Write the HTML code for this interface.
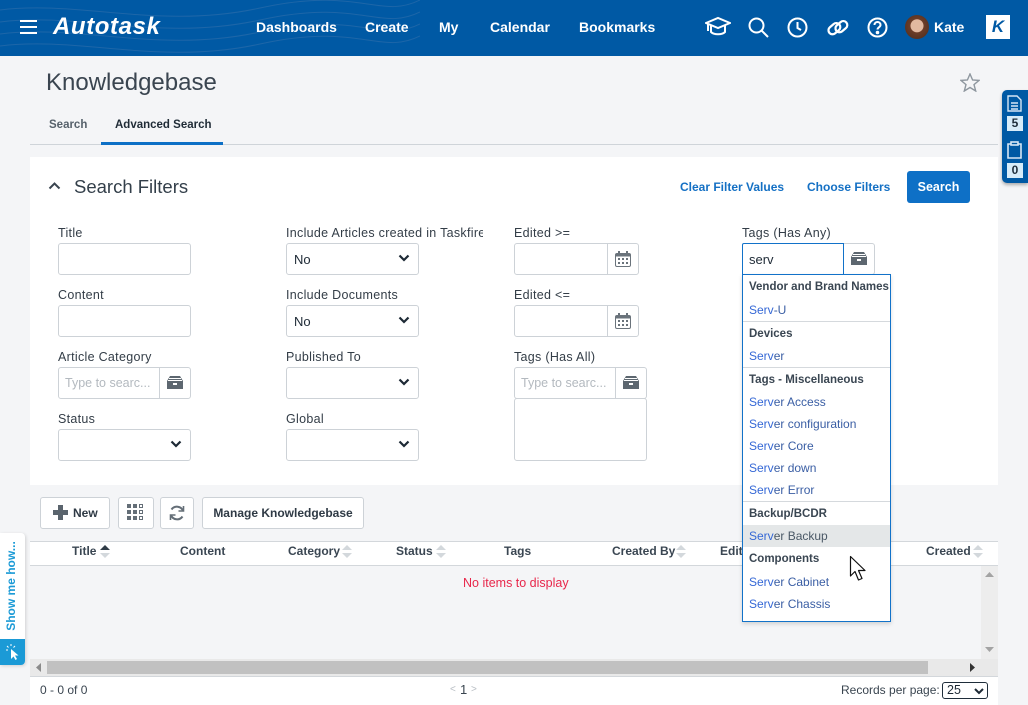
<!DOCTYPE html>
<html>
<head>
<meta charset="utf-8">
<style>
*{box-sizing:border-box;margin:0;padding:0}
html,body{width:1028px;height:705px;overflow:hidden}
body{background:#f4f5f7;font-family:"Liberation Sans",Arial,sans-serif;position:relative;color:#333d47}
.a{position:absolute}
.hdr{left:0;top:0;width:1028px;height:56px;background:#0059a4;overflow:hidden}
.nav{top:19px;color:#fff;font-weight:bold;font-size:14px;white-space:nowrap}
.lbl{font-size:12.5px;letter-spacing:0.3px;color:#333d47;white-space:nowrap;overflow:hidden}
.inp{background:#fff;border:1px solid #cdd2d7;border-radius:3px}
.sel{background:#fff;border:1px solid #cdd2d7;border-radius:3px;font-size:13px;color:#1d2935;padding:8px 0 0 7px}
.chev{position:absolute;right:8px;top:10px;width:12px;height:8px}
.btn{background:#fff;border:1px solid #cdd2d7;border-radius:3px;font-weight:bold;font-size:12px;color:#2f3a45}
.gh{top:544px;font-weight:bold;font-size:12px;color:#3a4652;white-space:nowrap}
.dd{left:742px;top:274px;width:149px;height:348px;background:#fff;border:1px solid #1272c9;box-shadow:0 2px 4px rgba(0,0,0,.15)}
.dh{font-weight:bold;font-size:11.5px;color:#3a4652;height:24px;line-height:24px;padding-left:6px;white-space:nowrap}
.di{font-size:12px;color:#3a5ea4;height:22px;line-height:22px;padding-left:6px;white-space:nowrap}
.di b{font-weight:normal;color:#3568d6}
.sep{border-top:1px solid #d5d9dd}
</style>
</head>
<body>
<!-- header -->
<div class="a hdr">
  <svg class="a" style="left:0;top:0" width="420" height="56">
    <g fill="none" stroke="#2a6cab" stroke-width="1" opacity=".7">
      <path d="M0 10 C80 0 160 30 260 8 S380 20 420 0"/>
      <path d="M0 22 C80 12 160 42 260 20 S380 32 420 12"/>
      <path d="M0 34 C80 24 160 54 260 32 S380 44 420 24"/>
      <path d="M0 46 C80 36 160 66 260 44 S380 56 420 36"/>
    </g>
  </svg>
  <div class="a" style="left:20px;top:20px;width:17px;height:2px;background:#fff"></div>
  <div class="a" style="left:20px;top:26px;width:17px;height:2px;background:#fff"></div>
  <div class="a" style="left:20px;top:32px;width:17px;height:2px;background:#fff"></div>
  <div class="a" style="left:53px;top:13px;color:#fff;font-weight:bold;font-style:italic;font-size:24px;letter-spacing:0.6px">Autotask</div>
  <div class="a nav" style="left:256px">Dashboards</div>
  <div class="a nav" style="left:365px">Create</div>
  <div class="a nav" style="left:439px">My</div>
  <div class="a nav" style="left:490px">Calendar</div>
  <div class="a nav" style="left:579px">Bookmarks</div>
  <svg class="a" style="left:705px;top:16px" width="26" height="22" viewBox="0 0 26 22" fill="none" stroke="#fff" stroke-width="2"><path d="M1 7 L13 2 L25 7 L13 12 Z"/><path d="M6 9 V16 C9 19 17 19 20 16 V9"/><path d="M3 8 V15"/></svg>
  <svg class="a" style="left:748px;top:17px" width="21" height="21" fill="none" stroke="#fff" stroke-width="2"><circle cx="8.5" cy="8.5" r="7"/><path d="M13.5 13.5 L20 20"/></svg>
  <svg class="a" style="left:787px;top:17px" width="21" height="21" fill="none" stroke="#fff" stroke-width="2"><circle cx="10.5" cy="10.5" r="9"/><path d="M10.5 5 V11 L14 13"/></svg>
  <svg class="a" style="left:826px;top:17px" width="24" height="22" fill="none" stroke="#fff" stroke-width="2.2"><rect x="2" y="8" width="13" height="8" rx="4" transform="rotate(-40 8 12)"/><rect x="9" y="6" width="13" height="8" rx="4" transform="rotate(-40 15 10)"/></svg>
  <svg class="a" style="left:867px;top:17px" width="21" height="21" fill="none" stroke="#fff" stroke-width="2"><circle cx="10.5" cy="10.5" r="9"/><path d="M7.5 8 C7.5 4 13.5 4 13.5 8 C13.5 10 10.5 10.5 10.5 12.5" /><circle cx="10.5" cy="15.5" r="0.8" fill="#fff"/></svg>
  <div class="a" style="left:905px;top:15px;width:24px;height:24px;border-radius:50%;background:radial-gradient(circle at 50% 45%,#e2b9a0 0 35%,#6b3d28 38%,#4a2a1c 100%)"></div>
  <div class="a nav" style="left:934px">Kate</div>
  <div class="a" style="left:986px;top:15px;width:24px;height:24px;background:#fff;color:#0059a4;font-weight:bold;font-size:17px;text-align:center;line-height:24px;font-style:italic">K</div>
</div>

<!-- title -->
<div class="a" style="left:46px;top:69px;font-size:24px;color:#3a4550">Knowledgebase</div>
<svg class="a" style="left:960px;top:73px" width="20" height="19" viewBox="0 0 20 19" fill="none" stroke="#8e979f" stroke-width="1.4"><path d="M10 1 L12.6 7 L19 7.4 L14 11.6 L15.7 18 L10 14.5 L4.3 18 L6 11.6 L1 7.4 L7.4 7 Z"/></svg>
<div class="a" style="left:49px;top:119px;font-size:11.5px;font-weight:bold;color:#56616b">Search</div>
<div class="a" style="left:115px;top:119px;font-size:11.5px;font-weight:bold;color:#1f2b36">Advanced Search</div>
<div class="a" style="left:30px;top:144px;width:968px;height:1px;background:#cfd4d9"></div>
<div class="a" style="left:101px;top:142px;width:122px;height:3px;background:#0d70c6"></div>

<!-- right panel -->
<div class="a" style="left:1002px;top:90px;width:26px;height:93px;background:#0059a4;border-radius:5px 0 0 5px;box-shadow:0 2px 3px rgba(0,0,0,.3)"></div>
<svg class="a" style="left:1007px;top:95px" width="15" height="17" fill="none" stroke="#d6e6f5" stroke-width="1.4"><path d="M1 1 H10 L14 5 V16 H1 Z"/><path d="M4 8 H11 M4 11 H11 M4 14 H11"/></svg>
<div class="a" style="left:1007px;top:116px;width:16px;height:15px;background:#d7ecf9;color:#1e2d3a;font-weight:bold;font-size:12px;text-align:center;line-height:15px">5</div>
<svg class="a" style="left:1007px;top:141px" width="15" height="18" fill="none" stroke="#d6e6f5" stroke-width="1.6"><path d="M4 3 H1 V17 H14 V3 H11"/><rect x="4" y="1" width="7" height="3"/></svg>
<div class="a" style="left:1007px;top:163px;width:16px;height:15px;background:#d7ecf9;color:#1e2d3a;font-weight:bold;font-size:12px;text-align:center;line-height:15px">0</div>

<!-- filter card -->
<div class="a" style="left:30px;top:157px;width:968px;height:328px;background:#fff"></div>
<svg class="a" style="left:48px;top:181px" width="13" height="9" fill="none" stroke="#3a4550" stroke-width="2"><path d="M1.5 7.5 L6.5 2.5 L11.5 7.5"/></svg>
<div class="a" style="left:74px;top:176px;font-size:18.5px;color:#333f4a">Search Filters</div>
<div class="a" style="left:680px;top:180px;font-size:12px;font-weight:bold;color:#1470c4">Clear Filter Values</div>
<div class="a" style="left:807px;top:180px;font-size:12px;font-weight:bold;color:#1470c4">Choose Filters</div>
<div class="a" style="left:907px;top:171px;width:63px;height:32px;background:#0e70c6;border-radius:3px;color:#fff;font-weight:bold;font-size:12.5px;text-align:center;line-height:32px">Search</div>

<!-- col1 -->
<div class="a lbl" style="left:58px;top:226px">Title</div>
<div class="a inp" style="left:58px;top:243px;width:133px;height:32px"></div>
<div class="a lbl" style="left:58px;top:288px">Content</div>
<div class="a inp" style="left:58px;top:305px;width:133px;height:32px"></div>
<div class="a lbl" style="left:58px;top:350px">Article Category</div>
<div class="a inp" style="left:58px;top:367px;width:133px;height:32px"></div>
<div class="a" style="left:159px;top:367px;width:1px;height:32px;background:#cdd2d7"></div>
<div class="a" style="left:65px;top:376px;font-size:12.5px;color:#b3b9bf;white-space:nowrap;width:91px;overflow:hidden">Type to searc...</div>
<svg class="a" style="left:167px;top:376px" width="16" height="13"><path d="M3 0 H13 L16 5 V13 H0 V5 Z" fill="#5d6770"/><rect x="2" y="2" width="12" height="1" fill="#fff"/><rect x="1" y="4" width="14" height="1" fill="#fff"/><rect x="6" y="7" width="4" height="2" fill="#fff"/></svg>
<div class="a lbl" style="left:58px;top:412px">Status</div>
<div class="a sel" style="left:58px;top:429px;width:133px;height:32px"><svg class="chev" fill="none" stroke="#1d2935" stroke-width="2.2"><path d="M1.5 1.5 L6 6 L10.5 1.5"/></svg></div>

<!-- col2 -->
<div class="a lbl" style="left:286px;top:226px;width:197px">Include Articles created in Taskfire</div>
<div class="a sel" style="left:286px;top:243px;width:133px;height:32px">No<svg class="chev" fill="none" stroke="#1d2935" stroke-width="2.2"><path d="M1.5 1.5 L6 6 L10.5 1.5"/></svg></div>
<div class="a lbl" style="left:286px;top:288px">Include Documents</div>
<div class="a sel" style="left:286px;top:305px;width:133px;height:32px">No<svg class="chev" fill="none" stroke="#1d2935" stroke-width="2.2"><path d="M1.5 1.5 L6 6 L10.5 1.5"/></svg></div>
<div class="a lbl" style="left:286px;top:350px">Published To</div>
<div class="a sel" style="left:286px;top:367px;width:133px;height:32px"><svg class="chev" fill="none" stroke="#1d2935" stroke-width="2.2"><path d="M1.5 1.5 L6 6 L10.5 1.5"/></svg></div>
<div class="a lbl" style="left:286px;top:412px">Global</div>
<div class="a sel" style="left:286px;top:429px;width:133px;height:32px"><svg class="chev" fill="none" stroke="#1d2935" stroke-width="2.2"><path d="M1.5 1.5 L6 6 L10.5 1.5"/></svg></div>

<!-- col3 -->
<div class="a lbl" style="left:514px;top:226px">Edited &gt;=</div>
<div class="a inp" style="left:514px;top:243px;width:125px;height:32px"></div>
<div class="a" style="left:607px;top:243px;width:1px;height:32px;background:#cdd2d7"></div>
<svg class="a" style="left:615px;top:251px" width="16" height="16"><rect x="0.5" y="2.5" width="15" height="13" rx="1.5" fill="none" stroke="#6a737b"/><rect x="0.5" y="2.5" width="15" height="3" fill="#6a737b"/><rect x="3" y="0" width="2" height="4" fill="#6a737b"/><rect x="11" y="0" width="2" height="4" fill="#6a737b"/><g fill="#6a737b"><rect x="3" y="7" width="2" height="2"/><rect x="7" y="7" width="2" height="2"/><rect x="11" y="7" width="2" height="2"/><rect x="3" y="11" width="2" height="2"/><rect x="7" y="11" width="2" height="2"/><rect x="11" y="11" width="2" height="2"/></g></svg>
<div class="a lbl" style="left:514px;top:288px">Edited &lt;=</div>
<div class="a inp" style="left:514px;top:305px;width:125px;height:32px"></div>
<div class="a" style="left:607px;top:305px;width:1px;height:32px;background:#cdd2d7"></div>
<svg class="a" style="left:615px;top:313px" width="16" height="16"><rect x="0.5" y="2.5" width="15" height="13" rx="1.5" fill="none" stroke="#6a737b"/><rect x="0.5" y="2.5" width="15" height="3" fill="#6a737b"/><rect x="3" y="0" width="2" height="4" fill="#6a737b"/><rect x="11" y="0" width="2" height="4" fill="#6a737b"/><g fill="#6a737b"><rect x="3" y="7" width="2" height="2"/><rect x="7" y="7" width="2" height="2"/><rect x="11" y="7" width="2" height="2"/><rect x="3" y="11" width="2" height="2"/><rect x="7" y="11" width="2" height="2"/><rect x="11" y="11" width="2" height="2"/></g></svg>
<div class="a lbl" style="left:514px;top:350px">Tags (Has All)</div>
<div class="a inp" style="left:514px;top:367px;width:133px;height:32px"></div>
<div class="a" style="left:615px;top:367px;width:1px;height:32px;background:#cdd2d7"></div>
<div class="a" style="left:521px;top:376px;font-size:12.5px;color:#b3b9bf;white-space:nowrap;width:90px;overflow:hidden">Type to searc...</div>
<svg class="a" style="left:623px;top:376px" width="16" height="13"><path d="M3 0 H13 L16 5 V13 H0 V5 Z" fill="#5d6770"/><rect x="2" y="2" width="12" height="1" fill="#fff"/><rect x="1" y="4" width="14" height="1" fill="#fff"/><rect x="6" y="7" width="4" height="2" fill="#fff"/></svg>
<div class="a inp" style="left:514px;top:398px;width:133px;height:63px"></div>

<!-- col4 -->
<div class="a lbl" style="left:742px;top:226px">Tags (Has Any)</div>
<div class="a inp" style="left:842px;top:243px;width:33px;height:32px;border-radius:0 3px 3px 0"></div>
<svg class="a" style="left:851px;top:252px" width="16" height="13"><path d="M3 0 H13 L16 5 V13 H0 V5 Z" fill="#5d6770"/><rect x="2" y="2" width="12" height="1" fill="#fff"/><rect x="1" y="4" width="14" height="1" fill="#fff"/><rect x="6" y="7" width="4" height="2" fill="#fff"/></svg>
<div class="a" style="left:742px;top:243px;width:102px;height:33px;background:#fff;border:1px solid #1272c9;border-bottom:none;border-radius:2px 0 0 0;font-size:13px;color:#1d2935;padding:8px 0 0 6px">serv</div>

<!-- toolbar -->
<div class="a btn" style="left:40px;top:497px;width:70px;height:32px"></div>
<svg class="a" style="left:53px;top:505px" width="15" height="15"><rect x="5" y="0" width="5" height="15" fill="#5a646d"/><rect x="0" y="5" width="15" height="5" fill="#5a646d"/></svg>
<div class="a" style="left:73px;top:506px;font-weight:bold;font-size:12px;color:#2f3a45">New</div>
<div class="a btn" style="left:118px;top:497px;width:36px;height:32px"></div>
<svg class="a" style="left:127px;top:504px" width="17" height="17"><g fill="#646e77"><rect x="0" y="0" width="4" height="4"/><rect x="6" y="0" width="4" height="4"/><rect x="0" y="6" width="4" height="4"/><rect x="6" y="6" width="4" height="4"/><rect x="0" y="12" width="4" height="4"/><rect x="6" y="12" width="4" height="4"/></g><g fill="none" stroke="#646e77"><rect x="12.5" y="0.5" width="3" height="3"/><rect x="12.5" y="6.5" width="3" height="3"/><rect x="12.5" y="12.5" width="3" height="3"/></g></svg>
<div class="a btn" style="left:160px;top:497px;width:34px;height:32px"></div>
<svg class="a" style="left:168px;top:504px" width="18" height="18" fill="none" stroke="#646e77" stroke-width="2"><path d="M15 7 A6.5 6.5 0 0 0 3.5 5.5"/><path d="M3 11 A6.5 6.5 0 0 0 14.5 12.5"/><path d="M15.5 2 V7 H10.5" stroke-width="1.6"/><path d="M2.5 16 V11 H7.5" stroke-width="1.6"/></svg>
<div class="a btn" style="left:202px;top:497px;width:162px;height:32px;text-align:center;line-height:30px">Manage Knowledgebase</div>

<!-- grid -->
<div class="a" style="left:30px;top:541px;width:968px;height:25px;background:#fff;border-top:1px solid #d3d7db;border-bottom:1px solid #d3d7db"></div>
<div class="a gh" style="left:72px">Title</div>
<svg class="a" style="left:100px;top:545px" width="10" height="14"><path d="M0 5 L5 0 L10 5 Z" fill="#2f3b46"/><path d="M0 8 L5 13 L10 8 Z" fill="#d3d8dc"/></svg>
<div class="a gh" style="left:180px">Content</div>
<div class="a gh" style="left:288px">Category</div>
<svg class="a" style="left:342px;top:545px" width="10" height="14"><path d="M0 5 L5 0 L10 5 Z" fill="#d3d8dc"/><path d="M0 8 L5 13 L10 8 Z" fill="#d3d8dc"/></svg>
<div class="a gh" style="left:396px">Status</div>
<svg class="a" style="left:436px;top:545px" width="10" height="14"><path d="M0 5 L5 0 L10 5 Z" fill="#d3d8dc"/><path d="M0 8 L5 13 L10 8 Z" fill="#d3d8dc"/></svg>
<div class="a gh" style="left:504px">Tags</div>
<div class="a gh" style="left:612px">Created By</div>
<svg class="a" style="left:676px;top:545px" width="10" height="14"><path d="M0 5 L5 0 L10 5 Z" fill="#d3d8dc"/><path d="M0 8 L5 13 L10 8 Z" fill="#d3d8dc"/></svg>
<div class="a gh" style="left:720px">Edited</div>
<div class="a gh" style="left:926px">Created</div>
<svg class="a" style="left:973px;top:545px" width="10" height="14"><path d="M0 5 L5 0 L10 5 Z" fill="#d3d8dc"/><path d="M0 8 L5 13 L10 8 Z" fill="#d3d8dc"/></svg>
<div class="a" style="left:463px;top:576px;font-size:12.5px;color:#e8274b">No items to display</div>
<!-- v scrollbar -->
<div class="a" style="left:981px;top:566px;width:17px;height:94px;background:#ededed"></div>
<svg class="a" style="left:985px;top:572px" width="9" height="5"><path d="M0 5 L4.5 0 L9 5 Z" fill="#a3a3a3"/></svg>
<svg class="a" style="left:985px;top:647px" width="9" height="5"><path d="M0 0 L4.5 5 L9 0 Z" fill="#a3a3a3"/></svg>
<!-- h scrollbar -->
<div class="a" style="left:30px;top:659px;width:968px;height:17px;background:#e9e9e9"></div>
<div class="a" style="left:47px;top:661px;width:881px;height:13px;background:#c1c1c1"></div>
<svg class="a" style="left:36px;top:663px" width="5" height="9"><path d="M5 0 L0 4.5 L5 9 Z" fill="#8a8a8a"/></svg>
<svg class="a" style="left:970px;top:663px" width="5" height="9"><path d="M0 0 L5 4.5 L0 9 Z" fill="#333"/></svg>
<!-- footer -->
<div class="a" style="left:30px;top:676px;width:968px;height:29px;background:#fff;border-top:1px solid #d3d7db"></div>
<div class="a" style="left:40px;top:683px;font-size:12px;color:#3a4550">0 - 0 of 0</div>
<div class="a" style="left:450px;top:684px;font-size:10px;color:#b8bec4">&lt;</div>
<div class="a" style="left:460px;top:682px;font-size:13px;color:#3a4550">1</div>
<div class="a" style="left:471px;top:684px;font-size:10px;color:#b8bec4">&gt;</div>
<div class="a" style="left:841px;top:683px;font-size:12px;color:#3a4550">Records per page:</div>
<div class="a" style="left:942px;top:682px;width:46px;height:17px;border:1.5px solid #1f2d3a;border-radius:3px;background:#fff;font-size:12.5px;color:#1d2935;padding:0 0 0 4px;line-height:14px">25<svg class="a" style="left:31px;top:5px" width="10" height="7" fill="none" stroke="#1d2935" stroke-width="2"><path d="M1 1 L5 5 L9 1"/></svg></div>

<!-- show me how -->
<div class="a" style="left:0;top:533px;width:25px;height:132px;background:#fff;border-radius:0 4px 4px 0;box-shadow:1px 1px 3px rgba(0,0,0,.15)"></div>
<div class="a" style="left:-35px;top:578px;width:94px;height:16px;transform:rotate(-90deg);color:#1b9ad6;font-weight:bold;font-size:12px;text-align:center;white-space:nowrap">Show me how...</div>
<div class="a" style="left:0;top:639px;width:25px;height:26px;background:#1b9ad6;border-radius:0 0 4px 0"></div>
<svg class="a" style="left:6px;top:644px" width="14" height="16"><g stroke="#fff" stroke-width="1"><path d="M5 0 V2 M1 2 L2.5 3.5 M0 6 H2 M9 2 L7.5 3.5"/></g><path d="M5 5 L5 15 L7.5 12.5 L9.5 16 L11 15 L9 11.5 L12.5 11.5 Z" fill="#fff"/></svg>

<!-- dropdown -->
<div class="a dd">
  <div class="dh">Vendor and Brand Names</div>
  <div class="di"><b>Serv</b>-U</div>
  <div class="dh sep">Devices</div>
  <div class="di"><b>Serv</b>er</div>
  <div class="dh sep">Tags - Miscellaneous</div>
  <div class="di"><b>Serv</b>er Access</div>
  <div class="di"><b>Serv</b>er configuration</div>
  <div class="di"><b>Serv</b>er Core</div>
  <div class="di"><b>Serv</b>er down</div>
  <div class="di"><b>Serv</b>er Error</div>
  <div class="dh sep">Backup/BCDR</div>
  <div class="di" style="background:#e4e7e8;color:#4a5866"><b>Serv</b>er Backup</div>
  <div class="dh">Components</div>
  <div class="di"><b>Serv</b>er Cabinet</div>
  <div class="di"><b>Serv</b>er Chassis</div>
</div>

<!-- cursor -->
<svg class="a" style="left:849px;top:555px" width="22" height="28" viewBox="0 0 22 28"><path d="M1.5 1.5 L1.5 21 L6 16.5 L9.5 25 L13 23.5 L9.5 15.5 L16 15.5 Z" fill="#fff" stroke="#111" stroke-width="1.2" stroke-linejoin="round"/></svg>
</body>
</html>
